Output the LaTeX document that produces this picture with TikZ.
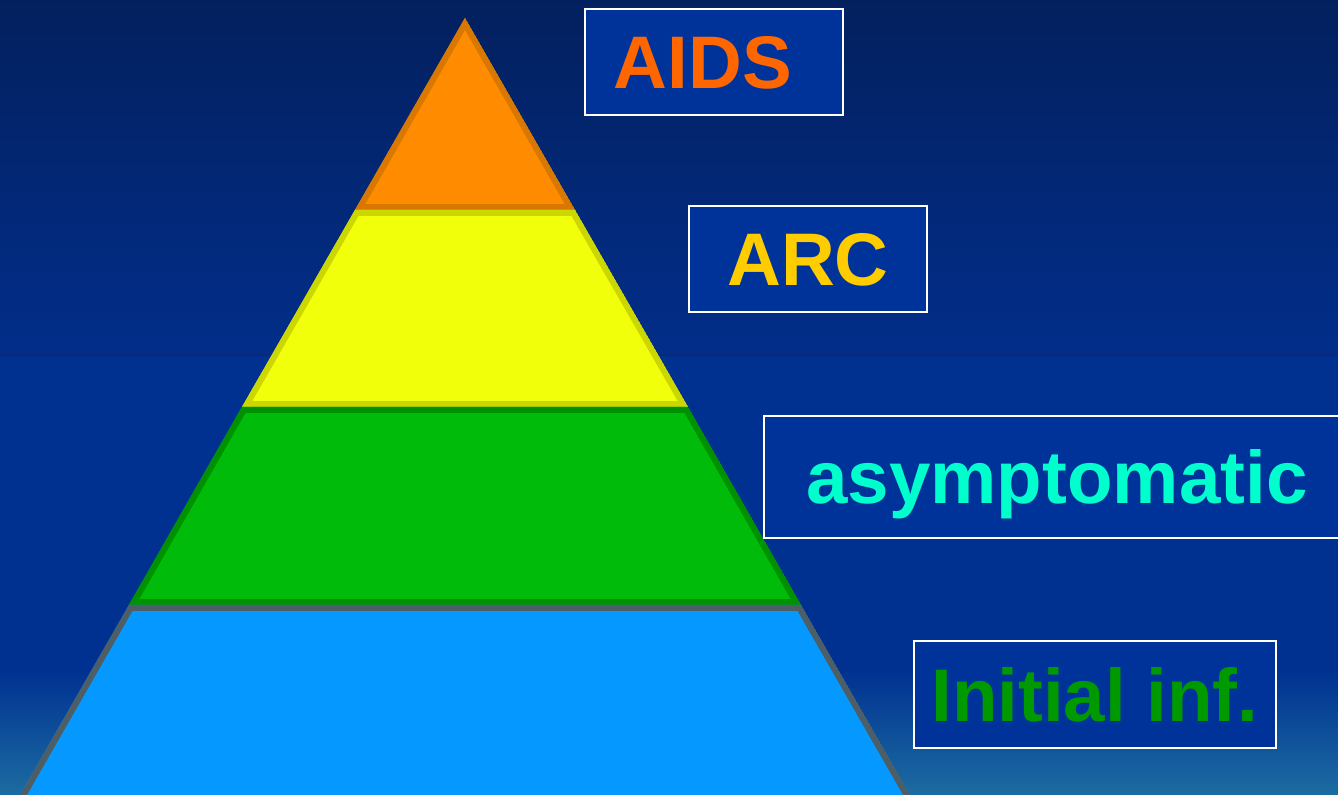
\documentclass[tikz,border=0pt]{standalone}
\usepackage{fontspec}
\setmainfont{Liberation Sans}
\usepackage{tikz}
\usetikzlibrary{positioning}

\definecolor{bgtop}{HTML}{03205E}
\definecolor{bgmid}{HTML}{022E8A}
\definecolor{bglow}{HTML}{003191}
\definecolor{bgbot}{HTML}{1C6CA1}
\definecolor{bgline}{HTML}{0A2A78}
\definecolor{boxblue}{HTML}{00339A}
\definecolor{aidscol}{HTML}{FF6600}
\definecolor{arccol}{HTML}{FFCC00}
\definecolor{asymcol}{HTML}{00FFCC}
\definecolor{initcol}{HTML}{009900}
\definecolor{orangefill}{HTML}{FF8C00}
\definecolor{orangeedge}{HTML}{D97800}
\definecolor{yellowfill}{HTML}{F2FF0A}
\definecolor{yellowedge}{HTML}{CCD600}
\definecolor{greenfill}{HTML}{00BB0A}
\definecolor{greenedge}{HTML}{009100}
\definecolor{bluefill}{HTML}{0599FF}
\definecolor{blueedge}{HTML}{4D5E66}

\tikzset{
  stage/.style={draw=white, line width=0.7pt, fill=boxblue, inner sep=0pt,
    font=\fontsize{21.2}{26}\selectfont\bfseries, text height=15.2pt, text depth=0pt},
}

% fill, edge, outline of one layer (edge drawn on the inside)
\newcommand{\layer}[3]{%
  \begin{scope}
    \clip #3;
    \fill[#1] #3;
    \draw[#2, line width=3.4pt] #3;
  \end{scope}}

\begin{document}
\begin{tikzpicture}
\clip (0,0) rectangle (13.38,-7.95);

% background
\fill[top color=bgtop, bottom color=bgmid] (0,0) rectangle (13.38,-3.55);
\fill[bglow] (0,-3.55) rectangle (13.38,-6.7);
\fill[top color=bglow, bottom color=bgbot] (0,-6.7) rectangle (13.38,-7.95);
\draw[bgline, line width=0.4pt] (0,-3.55) -- (13.38,-3.55);

% pyramid
\coordinate (apex) at (4.65,-0.18);
\coordinate (l1) at (3.55,-2.10);
\coordinate (r1) at (5.75,-2.10);
\coordinate (l2) at (2.42,-4.07);
\coordinate (r2) at (6.88,-4.07);
\coordinate (l3) at (1.29,-6.05);
\coordinate (r3) at (8.01,-6.05);
\coordinate (l4) at (0.057,-8.2);
\coordinate (r4) at (9.243,-8.2);

\layer{orangefill}{orangeedge}{(apex) -- (r1) -- (l1) -- cycle}
\layer{yellowfill}{yellowedge}{(l1) -- (r1) -- (r2) -- (l2) -- cycle}
\layer{greenfill}{greenedge}{(l2) -- (r2) -- (r3) -- (l3) -- cycle}
\layer{bluefill}{blueedge}{(l3) -- (r3) -- (r4) -- (l4) -- cycle}

% labels
\node[stage, minimum width=2.58cm, minimum height=1.06cm, text=aidscol] (aids) at (7.14,-0.62) {AIDS\rule{0.22cm}{0pt}};
\node[stage, minimum width=2.38cm, minimum height=1.06cm, text=arccol] (arc) at (8.08,-2.59) {ARC};
\node[stage, minimum width=5.86cm, minimum height=1.22cm, text=asymcol] (asym) at (10.57,-4.77) {asymptomatic};
\node[stage, minimum width=3.62cm, minimum height=1.07cm, text=initcol] (init) at (10.95,-6.945) {Initial inf.};
\end{tikzpicture}
\end{document}
